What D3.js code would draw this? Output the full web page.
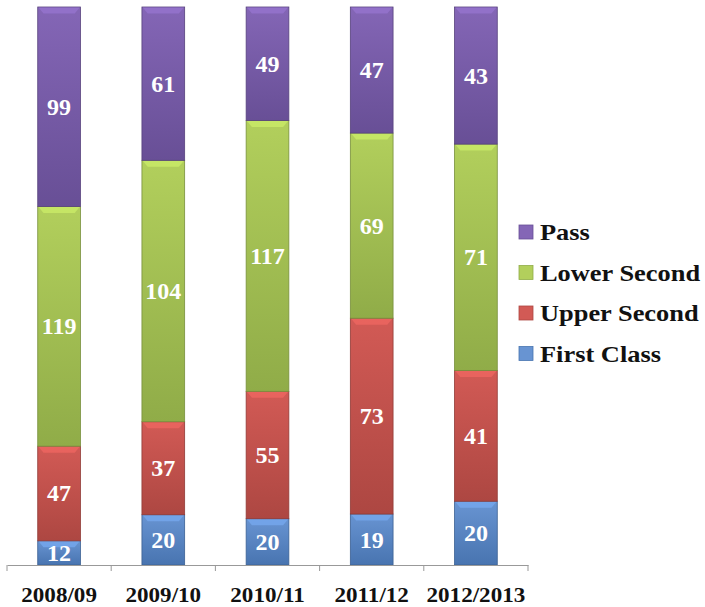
<!DOCTYPE html>
<html>
<head>
<meta charset="utf-8">
<script src="https://cdn.jsdelivr.net/npm/d3@7"></script>
<style>
  body { margin: 0; background: #fff; }
  svg { display: block; }
  text { font-family: "Liberation Serif", "Times New Roman", serif; font-weight: bold; }
</style>
</head>
<body>
<div id="chart"></div>
<script>
const years = ["2008/09", "2009/10", "2010/11", "2011/12", "2012/2013"];
const firstClass = [12, 20, 20, 19, 20];
const upperSecond = [47, 37, 55, 73, 41];
const lowerSecond = [119, 104, 117, 69, 71];
const pass = [99, 61, 49, 47, 43];
const seriesNames = ["First Class", "Upper Second", "Lower Second", "Pass"];

const colors = {
  "First Class": ["#6894d2", "#4874b0"],
  "Upper Second": ["#d25a55", "#ad4742"],
  "Lower Second": ["#b2cf5c", "#90ac48"],
  "Pass": ["#8466b6", "#684f96"]
};

const width = 705, height = 607;
const margin = { left: 7, right: 177, top: 7, bottom: 42 };
const plotRight = width - margin.right;
const plotBottom = height - margin.bottom;

const rows = years.map((y, i) => ({
  year: y,
  "First Class": firstClass[i],
  "Upper Second": upperSecond[i],
  "Lower Second": lowerSecond[i],
  "Pass": pass[i]
}));

const stacked = d3.stack().keys(seriesNames).offset(d3.stackOffsetExpand)(rows);

const x = d3.scaleBand().domain(years).range([margin.left, plotRight]).paddingInner(0.59).paddingOuter(0.295);
const y = d3.scaleLinear().domain([0, 1]).range([plotBottom, margin.top]);

const svg = d3.select("#chart").append("svg")
  .attr("width", width)
  .attr("height", height);

const defs = svg.append("defs");
seriesNames.forEach((name, i) => {
  const g = defs.append("linearGradient")
    .attr("id", "grad" + i)
    .attr("x1", 0).attr("y1", 0).attr("x2", 0).attr("y2", 1);
  g.append("stop").attr("offset", "0%").attr("stop-color", colors[name][0]);
  g.append("stop").attr("offset", "100%").attr("stop-color", colors[name][1]);
});

const layer = svg.append("g")
  .selectAll("g")
  .data(stacked)
  .join("g");

layer.selectAll("rect.seg")
  .data((d, i) => d.map(p => ({ p, i, key: d.key })))
  .join("rect")
  .attr("class", "seg")
  .attr("x", d => x(d.p.data.year))
  .attr("y", d => y(d.p[1]))
  .attr("width", x.bandwidth())
  .attr("height", d => y(d.p[0]) - y(d.p[1]))
  .attr("fill", d => `url(#grad${d.i})`)
  .attr("stroke", d => d3.color(colors[d.key][1]).darker(0.5))
  .attr("stroke-width", 0.8);

// soft bevel on top of each segment
layer.selectAll("path.bevel")
  .data((d, i) => d.map(p => ({ p, i, key: d.key })))
  .join("path")
  .attr("class", "bevel")
  .attr("d", d => {
    const x0 = x(d.p.data.year) + 0.8, x1 = x0 + x.bandwidth() - 1.6, t = y(d.p[1]) + 0.5;
    return `M${x0},${t}L${x1},${t}L${x1 - 5},${t + 6}L${x0 + 5},${t + 6}Z`;
  })
  .attr("fill", d => d3.color(colors[d.key][0]).brighter(0.4))
  .attr("opacity", 0.7);

layer.selectAll("text")
  .data(d => d.map(p => ({ p, key: d.key })))
  .join("text")
  .attr("x", d => x(d.p.data.year) + x.bandwidth() / 2)
  .attr("y", d => (y(d.p[0]) + y(d.p[1])) / 2 + 8)
  .attr("text-anchor", "middle")
  .attr("font-size", 24)
  .attr("fill", "#fff")
  .text(d => d.p.data[d.key]);

// x axis
const axis = svg.append("g")
  .attr("transform", `translate(0,${plotBottom})`)
  .call(d3.axisBottom(x).tickSize(0).tickPadding(0).tickFormat(""));
axis.select(".domain").attr("stroke", "#999").attr("stroke-width", 1);

const step = x.step();
const tickX = d3.range(years.length + 1).map(i => margin.left + i * step);
svg.append("g").selectAll("line")
  .data(tickX)
  .join("line")
  .attr("x1", d => d).attr("x2", d => d)
  .attr("y1", plotBottom).attr("y2", plotBottom + 6)
  .attr("stroke", "#999");

svg.append("g").selectAll("text")
  .data(years)
  .join("text")
  .attr("transform", d => `translate(${x(d) + x.bandwidth() / 2},${plotBottom + 37}) scale(1.1,1)`)
  .attr("text-anchor", "middle")
  .attr("font-size", 21)
  .attr("fill", "#111")
  .text(d => d);

// legend
const legendItems = seriesNames.slice().reverse();
const legend = svg.append("g")
  .selectAll("g")
  .data(legendItems)
  .join("g")
  .attr("transform", (d, i) => `translate(519,${232 + i * 40.5})`);

legend.append("rect")
  .attr("x", 0).attr("y", -7)
  .attr("width", 14).attr("height", 14)
  .attr("fill", d => colors[d][0])
  .attr("stroke", d => colors[d][1])
  .attr("stroke-width", 0.8);

legend.append("text")
  .attr("transform", "translate(21,8) scale(1.1,1)")
  .attr("font-size", 24)
  .attr("fill", "#111")
  .text(d => d);
</script>
</body>
</html>
